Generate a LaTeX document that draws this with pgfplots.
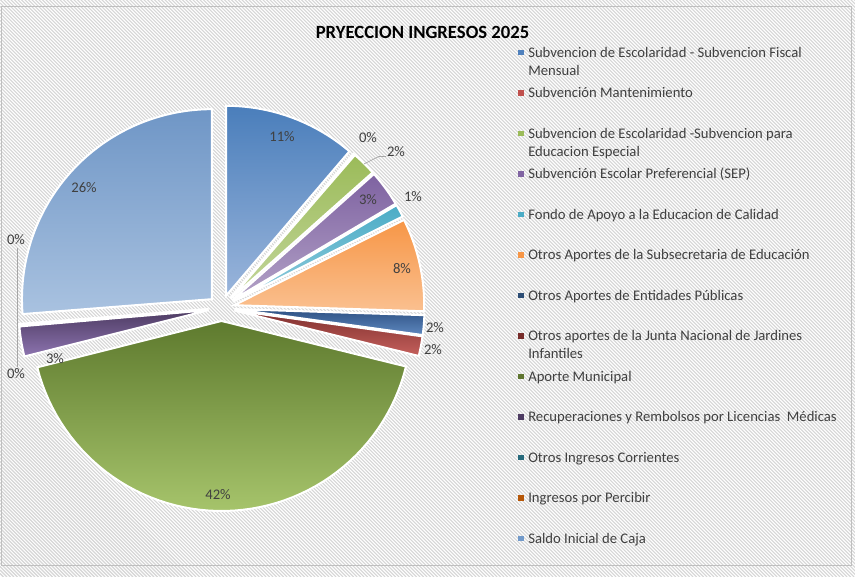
\documentclass[border=0pt]{standalone}
\usepackage{pgfplots}
\pgfplotsset{compat=1.18}
\usepackage{fontspec}
\setmainfont{Carlito}

% slice colours (top / bottom of gradient) and legend swatches
\definecolor{s1t}{HTML}{4A7EBB}\definecolor{s1b}{HTML}{9AB5DB}\definecolor{s1}{HTML}{4F81BD}
\definecolor{s2t}{HTML}{C0504D}\definecolor{s2b}{HTML}{D99694}\definecolor{s2}{HTML}{C0504D}
\definecolor{s3t}{HTML}{9BBB59}\definecolor{s3b}{HTML}{C3D69B}\definecolor{s3}{HTML}{9BBB59}
\definecolor{s4t}{HTML}{7E62A1}\definecolor{s4b}{HTML}{B3A2C7}\definecolor{s4}{HTML}{8064A2}
\definecolor{s5t}{HTML}{4BACC6}\definecolor{s5b}{HTML}{93CDDD}\definecolor{s5}{HTML}{4BACC6}
\definecolor{s6t}{HTML}{F79646}\definecolor{s6b}{HTML}{FAC090}\definecolor{s6}{HTML}{F79646}
\definecolor{s7t}{HTML}{2E5183}\definecolor{s7b}{HTML}{5E88BF}\definecolor{s7}{HTML}{2C4D75}
\definecolor{s8t}{HTML}{7E2F2D}\definecolor{s8b}{HTML}{C5605C}\definecolor{s8}{HTML}{772C2A}
\definecolor{s9t}{HTML}{5E7A2E}\definecolor{s9b}{HTML}{A6C46B}\definecolor{s9}{HTML}{5F7530}
\definecolor{s10t}{HTML}{4D3B62}\definecolor{s10b}{HTML}{8D74B0}\definecolor{s10}{HTML}{4D3B62}
\definecolor{s11t}{HTML}{276A7C}\definecolor{s11b}{HTML}{4BACC6}\definecolor{s11}{HTML}{276A7C}
\definecolor{s12t}{HTML}{B65708}\definecolor{s12b}{HTML}{F79646}\definecolor{s12}{HTML}{B65708}
\definecolor{s13t}{HTML}{6F96C6}\definecolor{s13b}{HTML}{A9C2E0}\definecolor{s13}{HTML}{729ACA}
\definecolor{txt}{HTML}{404040}
\definecolor{hatch}{HTML}{D6D6D6}

% \slice{start percent}{percent}{top colour}{bottom colour}
% pie centre (221.5,269), radius 190, explosion 13 (picture pixels)
\newcommand{\slice}[4]{%
  \pgfmathsetmacro\aA{3.6*#1}%
  \pgfmathsetmacro\aB{3.6*(#1+#2)}%
  \pgfmathsetmacro\aM{(\aA+\aB)/2}%
  \pgfmathsetmacro\ox{221.5+13*sin(\aM)}%
  \pgfmathsetmacro\oy{269+13*cos(\aM)}%
  \edef\doslice{\noexpand\addplot[draw=white, line width=1.5pt, top color=#3, bottom color=#4,
    domain=\aA:\aB, samples=60] ({\ox+190*sin(x)}, {\oy+190*cos(x)}) -- (axis cs:\ox,\oy) -- cycle;}%
  \doslice
}

\newcommand{\legitem}[3]{% y (pixels from top), colour, text
  \fill[#2] (axis cs:518,{577-#1-2.6}) rectangle (axis cs:523.5,{577-#1+2.6});
  \node[anchor=base west, text=txt, font=\fontsize{11}{13}\selectfont, inner sep=0pt]
    at (axis cs:528,{577-#1-4.7}) {#3};
}
\newcommand{\legline}[2]{% y, text (continuation line)
  \node[anchor=base west, text=txt, font=\fontsize{11}{13}\selectfont, inner sep=0pt]
    at (axis cs:528,{577-#1-4.7}) {#2};
}

\begin{document}
\begin{tikzpicture}
% chart area background: light diagonal hatch
\begin{scope}
\clip (0,0) rectangle (641.25pt,432.75pt);
\fill[white] (0,0) rectangle (641.25pt,432.75pt);
\foreach \k in {0,...,412} {
  \draw[hatch, line width=0.8pt] ({\k*2.625pt},0) -- (0,{\k*2.625pt});
}
\end{scope}
\begin{axis}[
  at={(0,0)}, anchor=south west,
  width=641.25pt, height=432.75pt, scale only axis,
  xmin=0, xmax=855, ymin=0, ymax=577,
  hide axis, clip=false,
]
\draw[gray!50, line width=0.6pt] (axis cs:1.5,12) rectangle (axis cs:851,571);

% pie slices: start (%) and share (%)
\slice{0}{11.25}{s1t}{s1b}
\slice{11.25}{0.10}{s2t}{s2b}
\slice{11.35}{2.08}{s3t}{s3b}
\slice{13.43}{3.08}{s4t}{s4b}
\slice{16.51}{1.08}{s5t}{s5b}
\slice{17.59}{7.92}{s6t}{s6b}
\slice{25.51}{1.67}{s7t}{s7b}
\slice{27.18}{1.67}{s8t}{s8b}
\slice{28.85}{42.23}{s9t}{s9b}
\slice{71.08}{2.55}{s10t}{s10b}
\slice{73.63}{0.06}{s11t}{s11b}
\slice{73.69}{0.06}{s12t}{s12b}
\slice{73.75}{26.25}{s13t}{s13b}

% leader lines
\draw[gray!70, line width=0.5pt] (axis cs:364,413) -- (axis cs:379,420.5) -- (axis cs:386,420.5);
\draw[gray!70, line width=0.5pt] (axis cs:17,329) -- (axis cs:17,210);

% data labels
\begin{scope}[every node/.style={text=txt, font=\fontsize{11}{13}\selectfont, inner sep=0pt}]
\node at (axis cs:282,440) {11\%};
\node at (axis cs:368,439) {0\%};
\node at (axis cs:396,425) {2\%};
\node at (axis cs:368,377) {3\%};
\node at (axis cs:413,380) {1\%};
\node at (axis cs:402,308) {8\%};
\node at (axis cs:435,249) {2\%};
\node at (axis cs:433,227) {2\%};
\node at (axis cs:218,82) {42\%};
\node at (axis cs:55,218) {3\%};
\node at (axis cs:16,203) {0\%};
\node at (axis cs:16,337) {0\%};
\node at (axis cs:84,389) {26\%};
\end{scope}

% title
\node[font=\bfseries\fontsize{14}{17}\selectfont, text=black] at (axis cs:422.5,545) {PRYECCION INGRESOS 2025};

% legend
\legitem{52.5}{s1}{Subvencion de Escolaridad - Subvencion Fiscal}
\legline{70.5}{Mensual}
\legitem{93}{s2}{Subvención Mantenimiento}
\legitem{133.5}{s3}{Subvencion de Escolaridad -Subvencion para}
\legline{151.5}{Educacion Especial}
\legitem{174}{s4}{Subvención Escolar Preferencial (SEP)}
\legitem{214.5}{s5}{Fondo de Apoyo a la Educacion de Calidad}
\legitem{255}{s6}{Otros Aportes de la Subsecretaria de Educación}
\legitem{295.5}{s7}{Otros Aportes de Entidades Públicas}
\legitem{336}{s8}{Otros aportes de la Junta Nacional de Jardines}
\legline{354}{Infantiles}
\legitem{376.5}{s9}{Aporte Municipal}
\legitem{417}{s10}{Recuperaciones y Rembolsos por Licencias \ Médicas}
\legitem{457.5}{s11}{Otros Ingresos Corrientes}
\legitem{498}{s12}{Ingresos por Percibir}
\legitem{538.5}{s13}{Saldo Inicial de Caja}
\end{axis}
\end{tikzpicture}
\end{document}
